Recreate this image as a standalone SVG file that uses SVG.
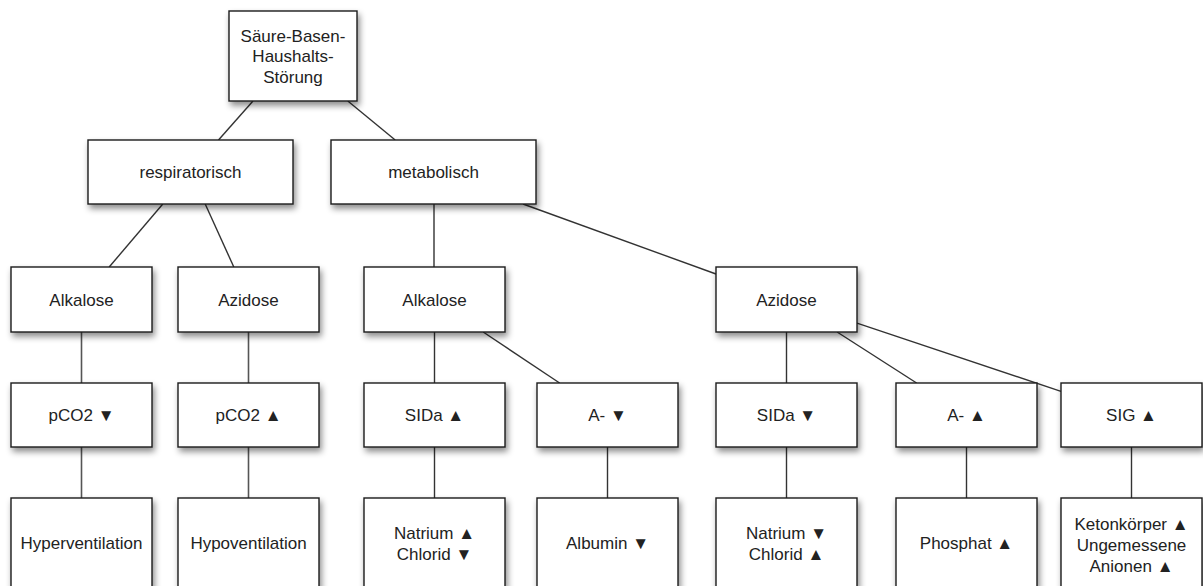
<svg xmlns="http://www.w3.org/2000/svg" width="1203" height="586" viewBox="0 0 1203 586">
<defs>
<filter id="sh" x="-20%" y="-20%" width="150%" height="160%">
<feDropShadow dx="2" dy="4" stdDeviation="3" flood-color="#000" flood-opacity="0.45"/>
</filter>
<style>
.b{fill:#fff;stroke:#1a1a1a;stroke-width:1.4;filter:url(#sh)}
.t{font-family:"Liberation Sans",Arial,sans-serif;font-size:17px;fill:#222;text-anchor:middle}
.c{stroke:#333;stroke-width:1.4;fill:none}
.v{stroke:#555;stroke-width:1.6;fill:none}
</style>
</defs>
<rect width="1203" height="586" fill="#fff"/>
<g id="connectors">
<line class="c" x1="253" y1="101" x2="218.5" y2="140"/>
<line class="c" x1="347.8" y1="101" x2="395.2" y2="140"/>
<line class="c" x1="162.8" y1="204" x2="109.2" y2="267"/>
<line class="c" x1="205.2" y1="204" x2="233.8" y2="267"/>
<line class="c" x1="434" y1="204" x2="434" y2="267"/>
<line class="c" x1="523" y1="204" x2="716" y2="274"/>
<line class="v" x1="81.5" y1="332" x2="81.5" y2="383"/>
<line class="v" x1="248.5" y1="332" x2="248.5" y2="383"/>
<line class="c" x1="434.5" y1="332" x2="434.5" y2="383"/>
<line class="c" x1="483.2" y1="332" x2="559.6" y2="383"/>
<line class="c" x1="786.5" y1="332" x2="786.5" y2="383"/>
<line class="c" x1="837.1" y1="332" x2="916.6" y2="383"/>
<line class="c" x1="857" y1="323.1" x2="1061" y2="391.4"/>
<line class="v" x1="81.5" y1="447" x2="81.5" y2="498"/>
<line class="v" x1="248.5" y1="447" x2="248.5" y2="498"/>
<line class="c" x1="434.5" y1="447" x2="434.5" y2="498"/>
<line class="c" x1="607.5" y1="447" x2="607.5" y2="498"/>
<line class="c" x1="786.5" y1="447" x2="786.5" y2="498"/>
<line class="c" x1="966.5" y1="447" x2="966.5" y2="498"/>
<line class="c" x1="1131.5" y1="447" x2="1131.5" y2="498"/>
</g>
<g id="root"><rect class="b" x="229" y="11" width="128" height="90"/>
<text class="t" x="293" y="41.5">Säure-Basen-</text><text class="t" x="293" y="62">Haushalts-</text><text class="t" x="293" y="82.5">Störung</text></g>
<g id="respiratorisch"><rect class="b" x="88" y="140" width="205" height="64"/><text class="t" x="190.5" y="177.5">respiratorisch</text></g>
<g id="metabolisch"><rect class="b" x="331" y="140" width="205" height="64"/><text class="t" x="433.5" y="177.5">metabolisch</text></g>
<g id="resp-alkalose"><rect class="b" x="11" y="267" width="141" height="65"/><text class="t" x="81.5" y="305.5">Alkalose</text></g>
<g id="resp-azidose"><rect class="b" x="178" y="267" width="141" height="65"/><text class="t" x="248.5" y="305.5">Azidose</text></g>
<g id="met-alkalose"><rect class="b" x="364" y="267" width="141" height="65"/><text class="t" x="434.5" y="305.5">Alkalose</text></g>
<g id="met-azidose"><rect class="b" x="716" y="267" width="141" height="65"/><text class="t" x="786.5" y="305.5">Azidose</text></g>
<g id="pco2-down"><rect class="b" x="11" y="383" width="141" height="64"/><text class="t" x="81.5" y="421">pCO2 ▼</text></g>
<g id="pco2-up"><rect class="b" x="178" y="383" width="141" height="64"/><text class="t" x="248.5" y="421">pCO2 ▲</text></g>
<g id="sida-up"><rect class="b" x="364" y="383" width="141" height="64"/><text class="t" x="434.5" y="421">SIDa ▲</text></g>
<g id="a-down"><rect class="b" x="537" y="383" width="141" height="64"/><text class="t" x="607.5" y="421">A- ▼</text></g>
<g id="sida-down"><rect class="b" x="716" y="383" width="141" height="64"/><text class="t" x="786.5" y="421">SIDa ▼</text></g>
<g id="a-up"><rect class="b" x="896" y="383" width="141" height="64"/><text class="t" x="966.5" y="421">A- ▲</text></g>
<g id="sig-up"><rect class="b" x="1061" y="383" width="141" height="64"/><text class="t" x="1131.5" y="421">SIG ▲</text></g>
<g id="hyperventilation"><rect class="b" x="11" y="498" width="141" height="90"/><text class="t" x="81.5" y="549">Hyperventilation</text></g>
<g id="hypoventilation"><rect class="b" x="178" y="498" width="141" height="90"/><text class="t" x="248.5" y="549">Hypoventilation</text></g>
<g id="natrium-up"><rect class="b" x="364" y="498" width="141" height="90"/><text class="t" x="434.5" y="538.5">Natrium ▲</text><text class="t" x="434.5" y="559.5">Chlorid ▼</text></g>
<g id="albumin"><rect class="b" x="537" y="498" width="141" height="90"/><text class="t" x="607.5" y="549">Albumin ▼</text></g>
<g id="natrium-down"><rect class="b" x="716" y="498" width="141" height="90"/><text class="t" x="786.5" y="538.5">Natrium ▼</text><text class="t" x="786.5" y="559.5">Chlorid ▲</text></g>
<g id="phosphat"><rect class="b" x="896" y="498" width="141" height="90"/><text class="t" x="966.5" y="549">Phosphat ▲</text></g>
<g id="keton"><rect class="b" x="1061" y="498" width="141" height="90"/><text class="t" x="1131.5" y="530">Ketonkörper ▲</text><text class="t" x="1131.5" y="551">Ungemessene</text><text class="t" x="1131.5" y="572">Anionen ▲</text></g>
</svg>
